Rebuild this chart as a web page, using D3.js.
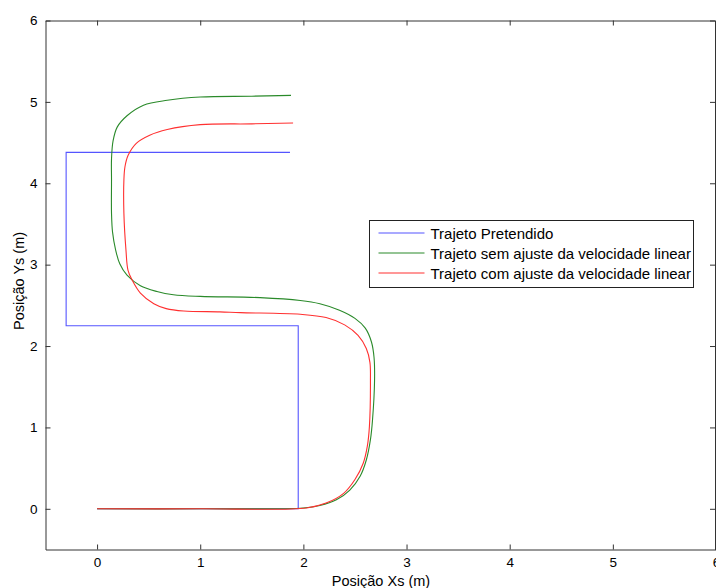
<!DOCTYPE html>
<html>
<head>
<meta charset="utf-8">
<script src="https://cdn.jsdelivr.net/npm/d3@7"></script>
<style>
  body { margin: 0; background: #fff; }
  svg { display: block; font-family: "Liberation Sans", Arial, sans-serif; }
</style>
</head>
<body>
<svg id="chart" width="716" height="588"></svg>
<script>
// Intended path (piecewise straight)
const intendedX = [0, 1.95, 1.95, -0.3, -0.3, 1.87];
const intendedY = [0, 0, 2.25, 2.25, 4.38, 4.38];

// Path without linear-velocity adjustment
const semX = [0, 1.0, 2.0, 2.16, 2.32, 2.45, 2.55, 2.61, 2.65, 2.67, 2.69, 2.685, 2.66, 2.60, 2.50, 2.35, 2.16, 1.97, 1.58, 1.0, 0.74, 0.58, 0.42, 0.29, 0.22, 0.18, 0.15, 0.14, 0.14, 0.14, 0.155, 0.195, 0.29, 0.45, 0.68, 1.0, 1.5, 1.88];
const semY = [0, 0, 0.01, 0.04, 0.11, 0.23, 0.40, 0.60, 0.85, 1.09, 1.58, 1.86, 2.05, 2.22, 2.34, 2.44, 2.52, 2.56, 2.595, 2.61, 2.63, 2.67, 2.74, 2.87, 3.01, 3.18, 3.40, 3.63, 4.04, 4.30, 4.52, 4.69, 4.83, 4.96, 5.02, 5.06, 5.07, 5.08];

// Path with linear-velocity adjustment
const comX = [0, 1.0, 2.03, 2.22, 2.39, 2.50, 2.58, 2.62, 2.64, 2.65, 2.645, 2.61, 2.53, 2.40, 2.22, 1.97, 1.39, 1.19, 0.84, 0.67, 0.55, 0.42, 0.34, 0.30, 0.28, 0.26, 0.26, 0.27, 0.30, 0.38, 0.51, 0.68, 1.0, 1.5, 1.90];
const comY = [0, 0, 0.01, 0.07, 0.19, 0.36, 0.56, 0.77, 1.01, 1.58, 1.80, 1.97, 2.13, 2.26, 2.35, 2.39, 2.41, 2.42, 2.43, 2.46, 2.52, 2.65, 2.81, 2.93, 3.18, 3.63, 4.04, 4.20, 4.34, 4.49, 4.59, 4.66, 4.72, 4.73, 4.74];

const xTicks = [0, 1, 2, 3, 4, 5, 6];
const yTicks = [0, 1, 2, 3, 4, 5, 6];

const seriesNames = ["Trajeto Pretendido", "Trajeto sem ajuste da velocidade linear", "Trajeto com ajuste da velocidade linear"];
const seriesColors = ["#5555ff", "#2a8a2a", "#ff3030"];

const svg = d3.select("#chart");
const mLeft = 45.5, mRight = 716, mTop = 20.5, mBottom = 549.5;

const x = d3.scaleLinear().domain([-0.5, 6]).range([mLeft, mRight]);
const y = d3.scaleLinear().domain([-0.5, 6]).range([mBottom, mTop]);

const axisColor = "#333";
const fontFam = "'Liberation Sans', Arial, sans-serif";

// axes: bottom/left with labels, top/right ticks only (inward ticks)
const gx = svg.append("g").attr("transform", `translate(0,${mBottom})`)
  .call(d3.axisBottom(x).tickValues(xTicks).tickFormat(d3.format("d")).tickSizeInner(-5).tickSizeOuter(0).tickPadding(8));
const gy = svg.append("g").attr("transform", `translate(${mLeft},0)`)
  .call(d3.axisLeft(y).tickValues(yTicks).tickFormat(d3.format("d")).tickSizeInner(-5).tickSizeOuter(0).tickPadding(8));
const gt = svg.append("g").attr("transform", `translate(0,${mTop})`)
  .call(d3.axisTop(x).tickValues(xTicks).tickFormat("").tickSizeInner(-5).tickSizeOuter(0));
const gr = svg.append("g").attr("transform", `translate(${mRight - 1},0)`)
  .call(d3.axisRight(y).tickValues(yTicks).tickFormat("").tickSizeInner(-5).tickSizeOuter(0));

[gx, gy, gt, gr].forEach(g => {
  g.selectAll("path.domain").attr("stroke", axisColor).attr("stroke-width", 1);
  g.selectAll(".tick line").attr("stroke", axisColor).attr("stroke-width", 1);
  g.selectAll(".tick text").attr("fill", "#000").style("font-size", "13.5px").style("font-family", fontFam);
});

// axis titles
svg.append("text").attr("x", 381).attr("y", 586)
  .attr("text-anchor", "middle").style("font-size", "14.5px").style("font-family", fontFam).text("Posição Xs (m)");
svg.append("text").attr("transform", `translate(24,${y(2.8)}) rotate(-90)`)
  .attr("text-anchor", "middle").style("font-size", "14.5px").style("font-family", fontFam).text("Posição Ys (m)");

// series
const series = [
  { xs: intendedX, ys: intendedY, curve: d3.curveLinear },
  { xs: semX, ys: semY, curve: d3.curveCatmullRom.alpha(0.5) },
  { xs: comX, ys: comY, curve: d3.curveCatmullRom.alpha(0.5) }
];

const plot = svg.append("g");
series.forEach((s, i) => {
  const pts = s.xs.map((v, k) => [v, s.ys[k]]);
  const line = d3.line().x(d => x(d[0])).y(d => y(d[1])).curve(s.curve);
  plot.append("path").attr("d", line(pts)).attr("fill", "none")
    .attr("stroke", seriesColors[i]).attr("stroke-width", 1.1);
});

// legend
const lg = svg.append("g").attr("transform", "translate(369.5,220.5)");
lg.append("rect").attr("width", 324).attr("height", 67).attr("fill", "#fff").attr("stroke", "#222").attr("stroke-width", 1);
seriesNames.forEach((name, i) => {
  const yy = 13 + i * 20;
  lg.append("path").attr("d", `M9,${yy - 0.5}H55`).attr("fill", "none")
    .attr("stroke", seriesColors[i]).attr("stroke-width", 1.1);
  lg.append("text").attr("x", 61).attr("y", yy + 5).style("font-size", "15px").style("font-family", fontFam)
    .attr("fill", "#000").text(name);
});
</script>
</body>
</html>
